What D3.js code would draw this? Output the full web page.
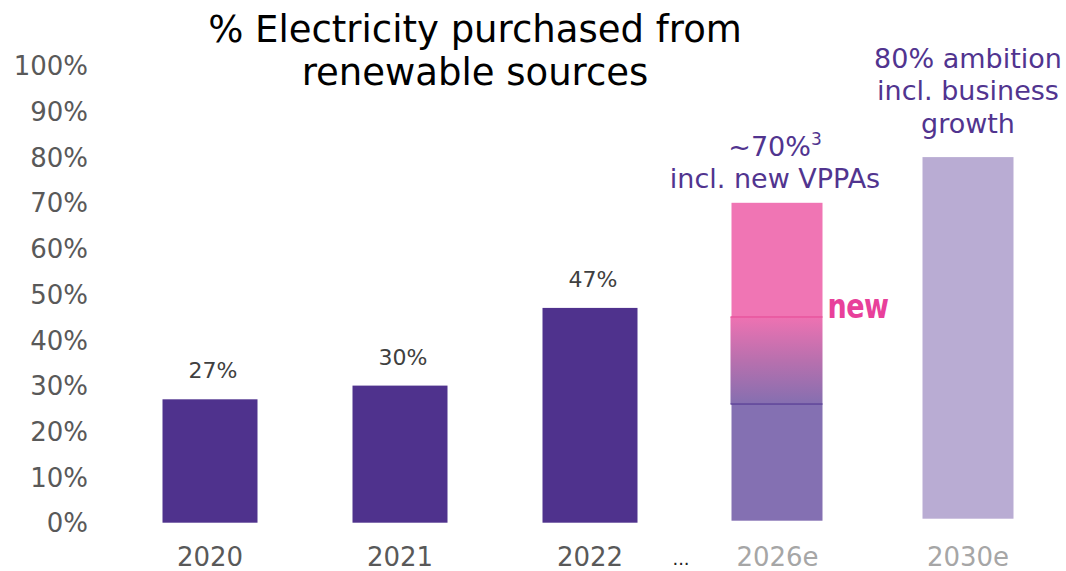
<!DOCTYPE html>
<html>
<head>
<meta charset="utf-8">
<script src="https://cdn.jsdelivr.net/npm/d3@7"></script>
<style>
  html, body { margin: 0; padding: 0; background: #fff; }
  svg { display: block; }
  text { font-family: "DejaVu Sans", Verdana, sans-serif; }
</style>
</head>
<body>
<svg id="chart" width="1066" height="571"></svg>
<script>
// ---- data ----
const categories = ["2020", "2021", "2022", "2026e", "2030e"];
const actualYears = ["2020", "2021", "2022"];
const actualValues = [27, 30, 47];
const valueLabels = ["27%", "30%", "47%"];
const year2026 = "2026e";
const base2026 = 26;        // existing share (solid part)
const newStart2026 = 45;    // top of gradient transition
const total2026 = 70;       // ~70% incl. new VPPAs
const year2030 = "2030e";
const value2030 = 80;
const yTicks = [0, 10, 20, 30, 40, 50, 60, 70, 80, 90, 100];
const titleLines = ["% Electricity purchased from", "renewable sources"];
const note2026 = ["~70%", "3", "incl. new VPPAs"];
const note2030 = ["80% ambition", "incl. business", "growth"];

// ---- layout ----
const svg = d3.select("#chart");
const W = 1066, H = 571;
svg.append("rect").attr("width", W).attr("height", H).attr("fill", "#fff");

const x = d3.scaleBand().domain(categories).range([115, 1065]).paddingInner(0.5).paddingOuter(0.25);
const y = d3.scaleLinear().domain([0, 100]).range([522.7, 65.7]);

const cDark = "#4F328D", cMid = "#8470B2", cLight = "#B9ACD3", cPink = "#F075B4";
const cNote = "#51348F", cAxis = "#595959", cEst = "#A6A6A6";

// gradient
const defs = svg.append("defs");
const grad = defs.append("linearGradient").attr("id", "trans").attr("x1", 0).attr("y1", 0).attr("x2", 0).attr("y2", 1);
grad.append("stop").attr("offset", "0%").attr("stop-color", "#EE72B2");
grad.append("stop").attr("offset", "50%").attr("stop-color", "#B870AE");
grad.append("stop").attr("offset", "100%").attr("stop-color", "#856FB0");

// title
svg.append("text")
  .attr("x", 475).attr("y", 42)
  .attr("text-anchor", "middle")
  .attr("font-size", 37).attr("fill", "#000")
  .text(titleLines[0]);
svg.append("text")
  .attr("x", 475).attr("y", 85)
  .attr("text-anchor", "middle")
  .attr("font-size", 37).attr("fill", "#000")
  .text(titleLines[1]);

// y axis (labels only)
const yAxis = d3.axisLeft(y).tickValues(yTicks).tickFormat(d => d + "%").tickSize(0).tickPadding(0);
const yg = svg.append("g").attr("transform", "translate(88,0)").call(yAxis);
yg.select(".domain").remove();
yg.selectAll("text").attr("font-size", 26).attr("fill", cAxis)
  .attr("font-family", "DejaVu Sans, sans-serif").attr("dy", "0.35em");

// x axis labels
const xAxis = d3.axisBottom(x).tickSize(0).tickPadding(0);
const xg = svg.append("g").attr("transform", "translate(0,548)").call(xAxis);
xg.select(".domain").remove();
xg.selectAll("text")
  .attr("font-size", 26)
  .attr("font-family", "DejaVu Sans, sans-serif")
  .attr("dy", "0.71em")
  .attr("fill", d => actualYears.includes(d) ? cAxis : cEst);
xg.selectAll(".tick").filter(d => d === year2026).attr("transform", `translate(${x(year2026) + x.bandwidth() / 2 - 2.5},0)`);
xg.selectAll(".tick").filter(d => d === year2030).attr("transform", `translate(${x(year2030) + x.bandwidth() / 2 - 2},0)`);

// ellipsis between 2022 and 2026e
svg.append("text")
  .attr("x", (x("2022") + x.bandwidth() + x(year2026)) / 2 - 4).attr("y", 565)
  .attr("text-anchor", "middle").attr("font-size", 18).attr("fill", "#222")
  .text("...");

// actual bars
const actual = actualYears.map((c, i) => ({ c, v: actualValues[i], label: valueLabels[i] }));
svg.selectAll(".bar").data(actual).enter().append("rect")
  .attr("class", "bar")
  .attr("x", d => x(d.c)).attr("width", x.bandwidth())
  .attr("y", d => y(d.v)).attr("height", d => y(0) - y(d.v))
  .attr("fill", cDark);
svg.selectAll(".vlab").data(actual).enter().append("text")
  .attr("class", "vlab")
  .attr("x", d => x(d.c) + x.bandwidth() / 2 + 3)
  .attr("y", d => y(d.v) - 21)
  .attr("text-anchor", "middle").attr("font-size", 22).attr("fill", "#404040")
  .text(d => d.label);

// 2026e stacked bar
const inset = 2;
const x26 = x(year2026) - 3 + inset, w26 = x.bandwidth() - 2 * inset;
svg.append("rect").attr("x", x26).attr("width", w26)
  .attr("y", y(base2026)).attr("height", y(0) - y(base2026) - 2).attr("fill", cMid);
svg.append("rect").attr("x", x26 - 1).attr("width", w26 + 1)
  .attr("y", y(newStart2026)).attr("height", y(base2026) - y(newStart2026)).attr("fill", "url(#trans)");
svg.append("rect").attr("x", x26).attr("width", w26)
  .attr("y", y(total2026)).attr("height", y(newStart2026) - y(total2026)).attr("fill", cPink);
svg.append("line").attr("x1", x26 - 1).attr("x2", x26 + w26)
  .attr("y1", y(newStart2026)).attr("y2", y(newStart2026))
  .attr("stroke", "#E8559E").attr("stroke-width", 1.5);
svg.append("line").attr("x1", x26 - 1).attr("x2", x26 + w26)
  .attr("y1", y(base2026)).attr("y2", y(base2026))
  .attr("stroke", "#5E4399").attr("stroke-width", 1.5);

// "new" tag
svg.append("text")
  .attr("transform", `translate(${x26 + w26 + 5},${y(newStart2026) + 1}) scale(1,1.25)`)
  .attr("font-size", 27).attr("font-weight", "bold").attr("fill", "#E8409A")
  .attr("letter-spacing", -0.5)
  .text("new");

// 2030e bar
const x30 = x(year2030) - 2 + inset, w30 = x.bandwidth() - 2 * inset;
svg.append("rect").attr("x", x30).attr("width", w30)
  .attr("y", y(value2030)).attr("height", y(0) - y(value2030) - 4).attr("fill", cLight);

// notes
const n26x = x26 + w26 / 2 - 2;
const t1 = svg.append("text").attr("x", n26x).attr("y", y(total2026) - 47)
  .attr("text-anchor", "middle").attr("font-size", 27).attr("fill", cNote);
t1.append("tspan").text(note2026[0]);
t1.append("tspan").attr("font-size", 17).attr("dy", -11).text(note2026[1]);
svg.append("text").attr("x", n26x).attr("y", y(total2026) - 15)
  .attr("text-anchor", "middle").attr("font-size", 27).attr("fill", cNote)
  .text(note2026[2]);

const n30x = x30 + w30 / 2;
note2030.forEach((t, i) => {
  svg.append("text").attr("x", n30x).attr("y", y(value2030) - 89.5 + i * 32.5)
    .attr("text-anchor", "middle").attr("font-size", 27).attr("fill", cNote)
    .text(t);
});
</script>
</body>
</html>
